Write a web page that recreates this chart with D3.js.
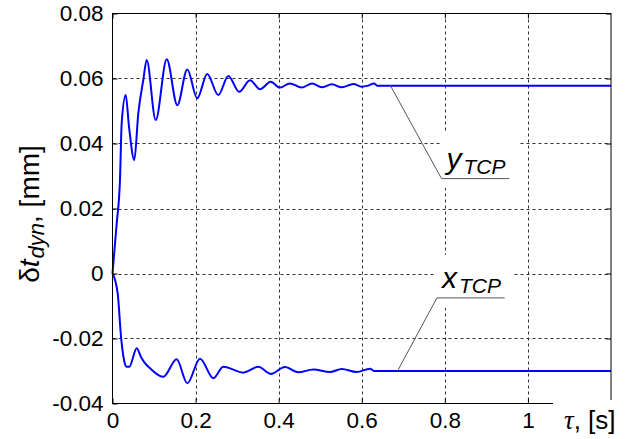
<!DOCTYPE html>
<html><head><meta charset="utf-8">
<script src="https://cdn.jsdelivr.net/npm/d3@7"></script>
<style>html,body{margin:0;padding:0;background:#fff;} svg{display:block;}</style>
</head><body><svg id="c" width="627" height="439"></svg>
<script>
// ---- data ----
const xTicks = [0, 0.2, 0.4, 0.6, 0.8, 1];
const xTickLabels = ["0", "0.2", "0.4", "0.6", "0.8", "1"];
const yTicks = [-0.04, -0.02, 0, 0.02, 0.04, 0.06, 0.08];
const yTickLabels = ["-0.04", "-0.02", "0", "0.02", "0.04", "0.06", "0.08"];
const xGrid = [0.2, 0.4, 0.6, 0.8, 1.0];
const yGrid = [-0.02, 0, 0.02, 0.04, 0.06];

const yTcpTime = [0, 0.0101, 0.018, 0.0221, 0.0318, 0.0397, 0.0525, 0.0621, 0.0741, 0.0823, 0.104, 0.1305, 0.156, 0.180, 0.204, 0.228, 0.2547, 0.2788, 0.305, 0.331, 0.355, 0.381, 0.403, 0.427, 0.455, 0.481, 0.5036, 0.528, 0.552, 0.580, 0.600, 0.615, 0.6295, 0.637, 1.2];
const yTcpVal  = [0, 0.0154, 0.0288, 0.0462, 0.0549, 0.0452, 0.0349, 0.0493, 0.0595, 0.0657, 0.0472, 0.0659, 0.0518, 0.0628, 0.0539, 0.0614, 0.0549, 0.0608, 0.0559, 0.0595, 0.0567, 0.0590, 0.0572, 0.0585, 0.0572, 0.0585, 0.0573, 0.0582, 0.0573, 0.0583, 0.0575, 0.0578, 0.0585, 0.0578, 0.0578];

const xTcpTime = [0, 0.0125, 0.0205, 0.0277, 0.0342, 0.0404, 0.0583, 0.0686, 0.0782, 0.090, 0.1223, 0.1545, 0.180, 0.2106, 0.2427, 0.2667, 0.315, 0.351, 0.381, 0.415, 0.447, 0.4834, 0.5236, 0.5518, 0.588, 0.620, 0.6295, 1.2];
const xTcpVal  = [0, -0.0061, -0.0194, -0.0266, -0.0287, -0.0287, -0.0230, -0.0257, -0.0276, -0.0291, -0.0318, -0.0264, -0.0338, -0.0262, -0.0322, -0.0287, -0.0305, -0.0287, -0.0309, -0.0288, -0.0304, -0.0295, -0.0303, -0.0294, -0.0303, -0.0293, -0.0300, -0.0300];

const seriesLetters = ["y", "x"];
const seriesSub = "TCP";
// annotation anchor/elbow/end points in data units
const annStart = [[0.669, 0.0578], [0.686, -0.0300]];
const annElbow = [[0.792, 0.0292], [0.781, -0.0075]];
const annEnd   = [[0.955, 0.0292], [0.944, -0.0075]];

// ---- layout ----
const svg = d3.select("#c");
const x = d3.scaleLinear().domain([0, 1.2]).range([112.5, 611]);
const y = d3.scaleLinear().domain([-0.04, 0.08]).range([403.5, 13.5]);
const sans = "Liberation Sans, Arial, sans-serif";

svg.append("rect").attr("width", 627).attr("height", 439).attr("fill", "#fff");

// grid
const grid = svg.append("g").attr("stroke", "#333").attr("stroke-width", 1).attr("stroke-dasharray", "3,3");
grid.selectAll(".vg").data(xGrid).join("line")
  .attr("x1", d => Math.round(x(d)) + 0.5).attr("x2", d => Math.round(x(d)) + 0.5)
  .attr("y1", y(0.08)).attr("y2", y(-0.04));
grid.selectAll(".hg").data(yGrid).join("line")
  .attr("y1", d => Math.round(y(d)) + 0.5).attr("y2", d => Math.round(y(d)) + 0.5)
  .attr("x1", x(0)).attr("x2", x(1.2));

// curves
const line = d3.line().x(d => x(d[0])).y(d => y(d[1])).curve(d3.curveMonotoneX);
const ySeries = yTcpTime.map((t, i) => [t, yTcpVal[i]]);
const xSeries = xTcpTime.map((t, i) => [t, xTcpVal[i]]);
[ySeries, xSeries].forEach(s => {
  svg.append("path").datum(s).attr("d", line)
    .attr("fill", "none").attr("stroke", "#0000ff").attr("stroke-width", 2).attr("stroke-linejoin", "round");
});

// axes (inward ticks)
const xAxis = svg.append("g").attr("transform", `translate(0,${y(-0.04)})`)
  .call(d3.axisBottom(x).tickValues(xTicks).tickFormat((d, i) => xTickLabels[i]).tickSizeInner(-5).tickSizeOuter(0).tickPadding(9));
const yAxis = svg.append("g").attr("transform", `translate(${x(0)},0)`)
  .call(d3.axisLeft(y).tickValues(yTicks).tickFormat((d, i) => yTickLabels[i]).tickSizeInner(-5).tickSizeOuter(0).tickPadding(9));
const xAxisTop = svg.append("g").attr("transform", `translate(0,${y(0.08)})`)
  .call(d3.axisTop(x).tickValues(xTicks).tickFormat("").tickSizeInner(-5).tickSizeOuter(0));
const yAxisRight = svg.append("g").attr("transform", `translate(${x(1.2)},0)`)
  .call(d3.axisRight(y).tickValues(yTicks).tickFormat("").tickSizeInner(-5).tickSizeOuter(0));
[xAxis, yAxis, xAxisTop, yAxisRight].forEach(g => {
  g.select(".domain").remove();
  g.selectAll("line").attr("stroke", "#000");
  g.selectAll("text").attr("font-family", sans).attr("font-size", 22.5).attr("fill", "#000");
});

// box
svg.append("rect").attr("x", x(0)).attr("y", y(0.08)).attr("width", x(1.2) - x(0)).attr("height", y(-0.04) - y(0.08))
  .attr("fill", "none").attr("stroke", "#000").attr("stroke-width", 1);

// label white boxes
svg.append("rect").attr("x", 440).attr("y", 132).attr("width", 79).attr("height", 56).attr("fill", "#fff");
svg.append("rect").attr("x", 435).attr("y", 255).attr("width", 78).attr("height", 53).attr("fill", "#fff");
svg.append("rect").attr("x", 553).attr("y", 400).attr("width", 74).attr("height", 39).attr("fill", "#fff");

// annotations
annStart.forEach((s, i) => {
  const pts = [s, annElbow[i], annEnd[i]];
  svg.append("path").attr("d", d3.line().x(d => x(d[0])).y(d => y(d[1]))(pts))
    .attr("fill", "none").attr("stroke", "#555").attr("stroke-width", 1);
  const t = svg.append("text").attr("x", x(annElbow[i][0]) + 5).attr("y", y(annElbow[i][1]) - 10)
    .attr("font-family", sans).attr("font-style", "italic").attr("fill", "#000");
  t.append("tspan").attr("font-size", 30).text(seriesLetters[i]);
  t.append("tspan").attr("font-size", 21).attr("dx", 2).attr("dy", 5).text(seriesSub);
});

// x label
const xl = svg.append("text").attr("x", 564).attr("y", 429).attr("fill", "#000");
xl.append("tspan").attr("font-family", "Liberation Serif, Times New Roman, serif").attr("font-style", "italic").attr("font-size", 27).text("τ");
xl.append("tspan").attr("font-family", sans).attr("font-size", 26).text(", [s]");

// y label
const yl = svg.append("text").attr("transform", "translate(39,214) rotate(-90)").attr("fill", "#000")
  .attr("text-anchor", "middle").attr("font-family", sans).attr("font-size", 28);
yl.append("tspan").text("δ");
yl.append("tspan").attr("font-style", "italic").text("t");
yl.append("tspan").attr("font-style", "italic").attr("font-size", 22).attr("dx", 1).attr("dy", 5).text("dyn");
yl.append("tspan").attr("dy", -5).text(", [mm]");
</script>
</body></html>
